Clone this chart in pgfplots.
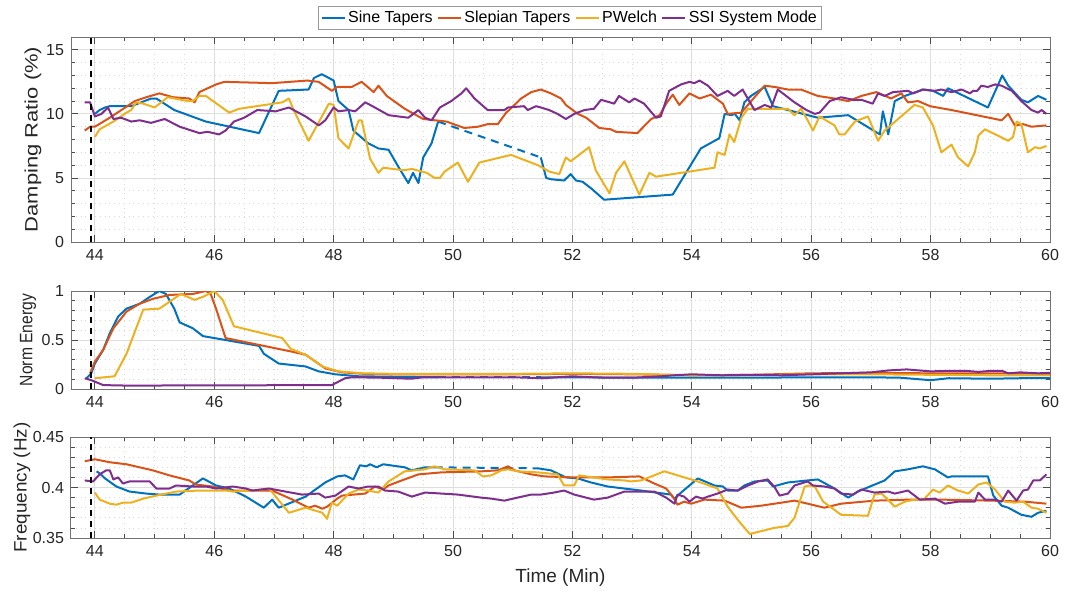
\documentclass[border=0pt]{standalone}
\usepackage{pgfplots}
\pgfplotsset{compat=1.18}
\usepackage{graphicx}
\usepackage{fontspec}
\setmainfont{Liberation Sans}
\definecolor{mBlue}{rgb}{0,0.447,0.741}
\definecolor{mOrange}{rgb}{0.85,0.325,0.098}
\definecolor{mYellow}{rgb}{0.929,0.694,0.125}
\definecolor{mPurple}{rgb}{0.494,0.184,0.556}
\pgfplotsset{
 panel/.style={
  scale only axis, width=489.5pt, xmin=43.6, xmax=60,
  xtick={44,46,...,60}, minor x tick num=3,
  grid=both,
  major grid style={draw=black!13, line width=0.4pt},
  minor grid style={draw=black!15, dotted, line width=0.4pt},
  tick align=inside, major tick length=3.5pt, minor tick length=2pt,
  every tick/.style={black!70, line width=0.4pt},
  axis line style={black!55, line width=0.5pt},
  tick label style={font=\fontsize{8}{9.6}\selectfont, text=black!85},
  /pgf/number format/assume math mode=true,
  every axis plot/.append style={line width=1pt, line join=round},
  label style={text=black!85},
 },
 vline/.style={black, line width=1pt, dash pattern=on 3pt off 2.5pt, forget plot},
}
\begin{document}
\begin{tikzpicture}
\useasboundingbox (0,0) rectangle (533pt,-295.5pt);
% ---------------- top panel ----------------
\begin{axis}[panel, at={(35.5pt,-18.5pt)}, anchor=north west, height=102.5pt,
  ymin=0, ymax=16, ytick={0,5,10,15}, minor y tick num=4,
  ylabel={\scalebox{1.22}[1]{Damping Ratio (\%)}},
  ylabel style={at={(axis description cs:-0.0388,0.5)}, anchor=center, font=\fontsize{9}{11}\selectfont},
  legend columns=4,
  legend style={at={(0.5097,1.034)}, anchor=south, draw=black!40, line width=0.5pt,
    font=\fontsize{8}{9.6}\selectfont, inner sep=1pt,
    nodes={inner sep=1.2pt},
    /tikz/every even column/.append style={column sep=1pt}},
  legend image code/.code={\draw[#1, line width=1pt] (0pt,0pt) -- (11.5pt,0pt);},
]
\addplot[mBlue] coordinates {(44.0,10.0) (44.08,10.3) (44.17,10.5) (44.25,10.6) (44.61,10.6) (44.94,11.2) (45.03,11.2) (45.33,10.3) (45.86,9.4) (46.75,8.5) (47.08,11.8) (47.58,11.9) (47.67,12.8) (47.8,13.1) (48.0,12.6) (48.08,11.0) (48.25,10.3) (48.33,8.7) (48.58,7.7) (48.75,7.3) (48.92,7.2) (49.08,5.9) (49.25,4.6) (49.33,5.4) (49.42,4.6) (49.5,6.6) (49.64,7.7) (49.75,9.4)};
\addlegendentry{Sine Tapers}
\addplot[mBlue, forget plot, dash pattern=on 4pt off 3pt] coordinates {(49.75,9.4) (51.47,6.6)};
\addplot[mBlue, forget plot] coordinates {(51.47,6.6) (51.56,5.0) (51.64,4.9) (51.86,4.8) (51.97,5.3) (52.06,4.8) (52.17,4.7) (52.31,4.2) (52.53,3.3) (53.68,3.7) (54.15,7.3) (54.46,8.1) (54.55,10.0) (54.66,9.9) (54.72,10.0) (54.8,9.5) (54.88,10.9) (54.99,11.4) (55.22,12.1) (55.36,10.6) (56.11,9.7) (56.62,9.9) (57.15,8.4) (57.2,10.2) (57.29,8.4) (57.4,11.0) (57.57,11.4) (57.87,11.9) (58.04,11.8) (58.21,11.4) (58.29,12.0) (58.96,10.5) (59.2,13.0) (59.3,12.2) (59.52,11.1) (59.63,10.9) (59.8,11.4) (59.94,11.1)};
\addplot[mOrange] coordinates {(43.83,8.7) (43.92,9.0) (44.0,9.0) (44.25,9.7) (44.67,11.0) (44.86,11.3) (45.08,11.6) (45.31,11.3) (45.58,11.2) (45.67,10.9) (45.75,11.7) (46.03,12.3) (46.17,12.5) (46.97,12.4) (47.56,12.6) (47.75,12.5) (47.97,11.8) (48.06,12.1) (48.3,12.1) (48.47,12.5) (48.67,11.7) (48.75,12.2) (48.89,11.4) (49.19,10.4) (49.5,9.6) (49.89,9.4) (50.19,8.9) (50.42,9.0) (50.58,9.2) (50.75,9.2) (50.89,10.1) (50.94,10.3) (51.14,11.2) (51.31,11.7) (51.47,11.9) (51.64,11.6) (51.81,11.2) (51.89,10.7) (52.09,10.0) (52.23,9.7) (52.45,8.9) (52.64,8.8) (52.73,8.6) (53.09,8.5) (53.15,8.8) (53.32,9.6) (53.46,9.9) (53.57,10.8) (53.68,11.5) (53.79,10.7) (53.96,11.6) (54.13,11.2) (54.32,11.5) (54.52,10.8) (54.6,10.0) (54.83,10.1) (55.05,11.3) (55.22,12.2) (55.39,12.1) (55.61,11.9) (55.83,11.9) (56.11,11.4) (56.39,11.2) (56.62,11.0) (56.84,11.4) (57.09,11.7) (57.34,11.2) (57.51,11.6) (57.62,10.9) (57.79,11.0) (57.99,10.6) (58.35,10.3) (59.19,9.5) (59.3,10.0) (59.41,9.1) (59.55,9.2) (59.69,9.0) (59.94,9.1)};
\addlegendentry{Slepian Tapers}
\addplot[mYellow] coordinates {(44.0,8.2) (44.08,8.8) (44.31,9.4) (44.53,10.1) (44.61,10.3) (44.69,10.9) (44.81,10.8) (45.0,10.5) (45.14,11.0) (45.22,11.3) (45.56,11.0) (45.64,11.0) (45.75,11.4) (45.86,11.4) (46.25,10.1) (46.42,10.4) (47.14,10.9) (47.25,11.2) (47.33,10.3) (47.58,7.9) (47.92,10.8) (48.0,10.7) (48.08,8.1) (48.25,7.3) (48.42,9.5) (48.47,9.5) (48.61,6.5) (48.75,5.4) (48.83,5.8) (49.17,5.6) (49.31,5.7) (49.56,5.4) (49.69,5.0) (49.78,5.0) (49.86,5.5) (50.08,6.2) (50.25,4.7) (50.44,6.2) (50.97,6.8) (51.42,6.0) (51.61,5.5) (51.78,5.3) (51.89,6.6) (51.97,6.3) (52.28,7.4) (52.39,5.6) (52.62,3.8) (52.73,5.4) (52.87,6.3) (53.12,3.7) (53.29,5.4) (53.4,5.1) (54.38,5.8) (54.43,7.0) (54.55,6.8) (54.63,8.4) (54.71,7.8) (54.83,9.7) (54.94,10.4) (55.61,10.4) (55.72,9.9) (55.83,10.4) (55.94,9.5) (56.03,8.7) (56.14,9.8) (56.39,9.1) (56.47,8.4) (56.56,8.4) (56.73,9.4) (56.95,9.8) (57.12,7.9) (57.23,8.7) (57.73,10.7) (57.87,10.5) (58.04,9.1) (58.18,7.0) (58.35,7.6) (58.46,6.6) (58.63,5.9) (58.74,7.0) (58.8,8.3) (58.91,8.8) (59.3,7.9) (59.38,8.2) (59.44,9.4) (59.52,9.2) (59.63,7.0) (59.75,7.4) (59.83,7.3) (59.94,7.5)};
\addlegendentry{PWelch}
\addplot[mPurple] coordinates {(43.83,10.9) (43.92,10.9) (44.0,9.8) (44.11,10.0) (44.22,10.5) (44.31,9.6) (44.44,9.7) (44.61,9.4) (44.75,9.5) (44.94,9.3) (45.17,9.6) (45.42,9.0) (45.75,8.5) (45.89,8.6) (46.08,8.4) (46.19,8.7) (46.33,9.4) (46.5,9.7) (46.72,10.3) (47.03,10.2) (47.25,10.5) (47.53,9.8) (47.75,9.1) (47.86,9.5) (48.0,10.5) (48.08,10.2) (48.25,10.3) (48.36,10.2) (48.53,10.9) (48.69,10.5) (48.92,9.9) (49.25,9.7) (49.42,10.3) (49.53,9.7) (49.64,9.5) (49.78,10.5) (49.97,11.0) (50.14,11.6) (50.22,12.0) (50.36,11.2) (50.58,10.3) (50.86,10.3) (50.92,10.5) (51.19,10.6) (51.25,10.3) (51.39,10.6) (51.47,10.5) (51.61,10.3) (51.75,10.0) (51.89,9.6) (52.03,10.0) (52.2,10.3) (52.36,10.4) (52.48,11.1) (52.7,10.8) (52.78,11.4) (52.95,10.9) (53.04,11.2) (53.2,10.8) (53.4,9.7) (53.48,9.8) (53.62,11.8) (53.82,12.3) (53.96,12.5) (54.04,12.4) (54.13,12.6) (54.27,12.2) (54.43,11.4) (54.6,11.8) (54.71,11.4) (54.85,11.9) (55.05,10.3) (55.22,10.7) (55.33,10.5) (55.44,11.9) (55.72,10.9) (55.92,10.3) (56.06,10.0) (56.14,10.1) (56.31,11.0) (56.5,11.3) (56.7,11.1) (56.84,11.1) (57.03,10.8) (57.12,11.6) (57.23,11.4) (57.37,11.7) (57.62,11.8) (57.71,11.6) (57.87,11.9) (58.07,11.8) (58.18,11.9) (58.35,11.7) (58.52,11.9) (58.66,11.6) (58.71,11.8) (58.78,11.8) (58.85,12.2) (58.96,12.1) (59.08,12.3) (59.19,12.2) (59.36,11.8) (59.52,11.0) (59.69,10.3) (59.8,10.1) (59.86,10.3) (59.94,10.0)};
\addlegendentry{SSI System Mode}
\addplot[vline] coordinates {(43.93,0) (43.93,16)};
\end{axis}
% ---------------- middle panel ----------------
\begin{axis}[panel, at={(35.5pt,-145.5pt)}, anchor=north west, height=49pt,
  ymin=0, ymax=1, ytick={0,0.5,1}, minor y tick num=4,
  ylabel={\scalebox{0.87}[1]{Norm Energy}},
  ylabel style={at={(axis description cs:-0.0439,0.5)}, anchor=center, font=\fontsize{9}{11}\selectfont},
]
\addplot[mBlue] coordinates {(43.86,0.11) (43.94,0.16) (44.0,0.26) (44.14,0.40) (44.25,0.57) (44.39,0.74) (44.53,0.82) (44.75,0.87) (44.92,0.94) (45.08,1.0) (45.19,0.97) (45.33,0.82) (45.42,0.68) (45.64,0.62) (45.81,0.54) (46.19,0.50) (46.75,0.44) (46.83,0.36) (47.08,0.26) (47.53,0.23) (47.75,0.18) (48.03,0.15) (48.42,0.13) (49,0.125) (49.75,0.12)};
\addplot[mBlue, dash pattern=on 4pt off 3pt] coordinates {(49.75,0.12) (51.47,0.12)};
\addplot[mBlue] coordinates {(51.47,0.12) (52,0.12) (53,0.115) (54,0.115) (55,0.115) (56,0.12) (57,0.12) (57.5,0.115) (58,0.09) (58.3,0.11) (59,0.105) (59.5,0.11) (60,0.11)};
\addplot[mOrange] coordinates {(43.92,0.16) (44.0,0.28) (44.14,0.40) (44.31,0.62) (44.53,0.79) (44.75,0.87) (44.97,0.92) (45.25,0.96) (45.64,0.97) (45.86,1.0) (45.94,0.97) (46.03,0.82) (46.19,0.52) (46.75,0.45) (47.31,0.38) (47.53,0.35) (47.86,0.21) (48.14,0.17) (48.5,0.155) (49,0.15) (50,0.15) (51,0.15) (52,0.155) (53,0.15) (54,0.14) (55,0.145) (56,0.16) (57,0.165) (58,0.16) (59,0.16) (60,0.155)};
\addplot[mYellow] coordinates {(44.0,0.11) (44.33,0.13) (44.53,0.36) (44.81,0.81) (45.08,0.82) (45.25,0.89) (45.44,0.97) (45.67,0.91) (45.81,0.94) (46.0,1.0) (46.14,0.91) (46.33,0.64) (47.14,0.52) (47.28,0.41) (47.53,0.35) (47.81,0.23) (48.08,0.18) (48.5,0.16) (49,0.155) (50,0.155) (51,0.155) (52,0.16) (53,0.155) (54,0.14) (55,0.14) (56,0.15) (57,0.15) (58,0.145) (59,0.14) (60,0.14)};
\addplot[mPurple] coordinates {(43.83,0.11) (43.94,0.09) (44.14,0.04) (44.53,0.035) (47.97,0.04) (48.19,0.11) (48.31,0.12) (48.8,0.115) (49.3,0.105) (49.5,0.12) (50,0.12) (51,0.12) (51.5,0.11) (52,0.13) (52.5,0.115) (53,0.115) (53.5,0.13) (53.7,0.14) (54,0.15) (54.5,0.14) (55,0.145) (55.5,0.14) (56,0.15) (56.5,0.16) (57,0.17) (57.3,0.19) (57.6,0.2) (58,0.18) (58.3,0.185) (58.6,0.185) (58.8,0.175) (59,0.185) (59.2,0.185) (59.3,0.16) (59.5,0.17) (59.8,0.16) (60,0.165)};
\addplot[vline] coordinates {(43.93,0) (43.93,1)};
\end{axis}
% ---------------- bottom panel ----------------
\begin{axis}[panel, at={(35.5pt,-218.5pt)}, anchor=north west, height=50.5pt,
  ymin=0.35, ymax=0.45, ytick={0.35,0.4,0.45}, minor y tick num=4,
  yticklabel style={/pgf/number format/fixed, /pgf/number format/precision=2},
  ylabel={\scalebox{1.05}[1]{Frequency (Hz)}},
  ylabel style={at={(axis description cs:-0.05,0.5)}, anchor=center, font=\fontsize{9}{11}\selectfont},
  xlabel={Time (Min)},
  xlabel style={at={(axis description cs:0.5,-0.396)}, anchor=center, font=\fontsize{9.5}{11}\selectfont},
]
\addplot[mBlue] coordinates {(44.03,0.416) (44.08,0.414) (44.17,0.409) (44.36,0.401) (44.58,0.396) (44.86,0.394) (45.08,0.393) (45.42,0.393) (45.81,0.409) (46.03,0.402) (46.25,0.399) (46.53,0.391) (46.83,0.380) (46.97,0.388) (47.08,0.380) (47.53,0.391) (47.86,0.405) (48.06,0.411) (48.19,0.412) (48.33,0.408) (48.44,0.422) (48.55,0.421) (48.61,0.423) (48.72,0.420) (48.83,0.423) (49.19,0.42) (49.31,0.417) (49.53,0.42) (49.69,0.42)};
\addplot[mBlue, dash pattern=on 4pt off 3pt] coordinates {(49.69,0.42) (51.42,0.419)};
\addplot[mBlue] coordinates {(51.42,0.419) (51.64,0.417) (51.89,0.41) (52.09,0.409) (52.31,0.405) (52.59,0.401) (53.15,0.397) (53.65,0.393) (53.71,0.389) (53.82,0.395) (54.1,0.409) (54.38,0.402) (54.52,0.401) (54.6,0.397) (54.77,0.397) (54.88,0.402) (55.05,0.406) (55.27,0.407) (55.36,0.401) (55.61,0.405) (55.94,0.407) (56.11,0.408) (56.39,0.399) (56.62,0.39) (56.78,0.396) (57.23,0.407) (57.4,0.416) (57.62,0.418) (57.87,0.421) (58.07,0.418) (58.29,0.41) (58.35,0.411) (58.96,0.411) (59.05,0.392) (59.19,0.382) (59.3,0.38) (59.52,0.373) (59.69,0.371) (59.8,0.375) (59.94,0.377)};
\addplot[mOrange] coordinates {(43.83,0.426) (44.0,0.428) (44.25,0.425) (44.53,0.423) (44.97,0.417) (45.25,0.412) (45.58,0.407) (45.69,0.403) (45.97,0.401) (46.25,0.397) (46.69,0.397) (46.97,0.397) (47.31,0.388) (47.58,0.380) (47.69,0.382) (47.81,0.379) (47.89,0.381) (48.06,0.389) (48.14,0.392) (48.53,0.394) (48.69,0.401) (48.83,0.398) (48.92,0.402) (49.14,0.407) (49.42,0.413) (49.81,0.415) (50.47,0.416) (50.75,0.417) (50.92,0.421) (51.03,0.417) (51.31,0.413) (51.53,0.411) (52.03,0.41) (52.59,0.41) (53.12,0.411) (53.37,0.404) (53.57,0.399) (53.68,0.391) (53.76,0.383) (53.87,0.386) (53.99,0.384) (54.21,0.388) (54.55,0.387) (54.83,0.38) (55.16,0.382) (55.5,0.385) (55.72,0.387) (55.94,0.384) (56.22,0.38) (56.5,0.384) (57.06,0.387) (57.62,0.388) (58.18,0.388) (59.02,0.387) (59.58,0.386) (59.94,0.384)};
\addplot[mYellow] coordinates {(44.0,0.395) (44.08,0.388) (44.25,0.384) (44.36,0.383) (44.47,0.385) (44.61,0.385) (44.81,0.389) (45.03,0.392) (45.36,0.396) (45.75,0.397) (46.19,0.397) (46.31,0.396) (46.64,0.397) (46.92,0.399) (47.25,0.375) (47.53,0.380) (47.81,0.375) (47.89,0.369) (47.97,0.385) (48.06,0.382) (48.25,0.394) (48.42,0.398) (48.58,0.397) (48.75,0.395) (48.92,0.406) (49.19,0.416) (49.53,0.418) (49.69,0.421) (49.86,0.418) (50.36,0.417) (50.5,0.411) (50.64,0.412) (50.81,0.417) (50.92,0.418) (51.08,0.416) (51.42,0.415) (51.75,0.413) (51.86,0.402) (52.03,0.402) (52.11,0.412) (52.59,0.408) (52.87,0.407) (52.98,0.406) (53.15,0.407) (53.54,0.416) (54.1,0.406) (54.43,0.399) (54.6,0.381) (54.77,0.368) (54.97,0.354) (55.38,0.36) (55.61,0.362) (55.72,0.37) (55.89,0.401) (55.97,0.402) (56.06,0.401) (56.2,0.386) (56.34,0.38) (56.5,0.373) (56.95,0.372) (57.06,0.393) (57.18,0.394) (57.4,0.381) (57.57,0.386) (57.73,0.388) (57.9,0.389) (58.04,0.398) (58.15,0.395) (58.29,0.402) (58.46,0.397) (58.63,0.394) (58.8,0.403) (58.94,0.405) (59.08,0.398) (59.24,0.386) (59.41,0.385) (59.55,0.386) (59.69,0.38) (59.8,0.379) (59.94,0.375)};
\addplot[mPurple] coordinates {(43.83,0.407) (43.97,0.406) (44.08,0.413) (44.19,0.417) (44.25,0.417) (44.31,0.408) (44.39,0.41) (44.47,0.404) (44.58,0.406) (44.92,0.406) (45.03,0.399) (45.25,0.399) (45.36,0.402) (45.64,0.401) (45.86,0.401) (46.03,0.399) (46.31,0.401) (46.53,0.399) (46.64,0.397) (46.92,0.399) (47.19,0.396) (47.47,0.393) (47.75,0.394) (47.86,0.39) (48.03,0.392) (48.25,0.401) (48.42,0.399) (48.58,0.401) (48.75,0.401) (48.86,0.397) (49.08,0.396) (49.31,0.391) (49.53,0.395) (49.81,0.394) (50.08,0.393) (50.47,0.39) (50.64,0.389) (50.86,0.387) (51.08,0.39) (51.31,0.393) (51.47,0.393) (51.69,0.395) (51.86,0.397) (52.03,0.393) (52.36,0.388) (52.59,0.39) (52.87,0.396) (53.15,0.396) (53.37,0.396) (53.57,0.39) (53.71,0.384) (53.76,0.393) (53.87,0.391) (53.96,0.386) (54.07,0.391) (54.18,0.389) (54.27,0.391) (54.43,0.394) (54.6,0.398) (54.77,0.397) (54.94,0.402) (55.11,0.406) (55.27,0.408) (55.38,0.401) (55.47,0.392) (55.61,0.394) (55.72,0.402) (55.94,0.406) (56.03,0.402) (56.22,0.401) (56.39,0.399) (56.5,0.394) (56.7,0.393) (56.84,0.398) (57.06,0.395) (57.29,0.396) (57.4,0.394) (57.62,0.397) (57.82,0.388) (58.07,0.389) (58.24,0.384) (58.46,0.386) (58.74,0.386) (58.8,0.395) (58.91,0.388) (59.08,0.388) (59.19,0.386) (59.3,0.397) (59.44,0.387) (59.55,0.397) (59.63,0.398) (59.72,0.407) (59.83,0.407) (59.94,0.413)};
\addplot[vline] coordinates {(43.93,0.35) (43.93,0.45)};
\end{axis}
\end{tikzpicture}
\end{document}
